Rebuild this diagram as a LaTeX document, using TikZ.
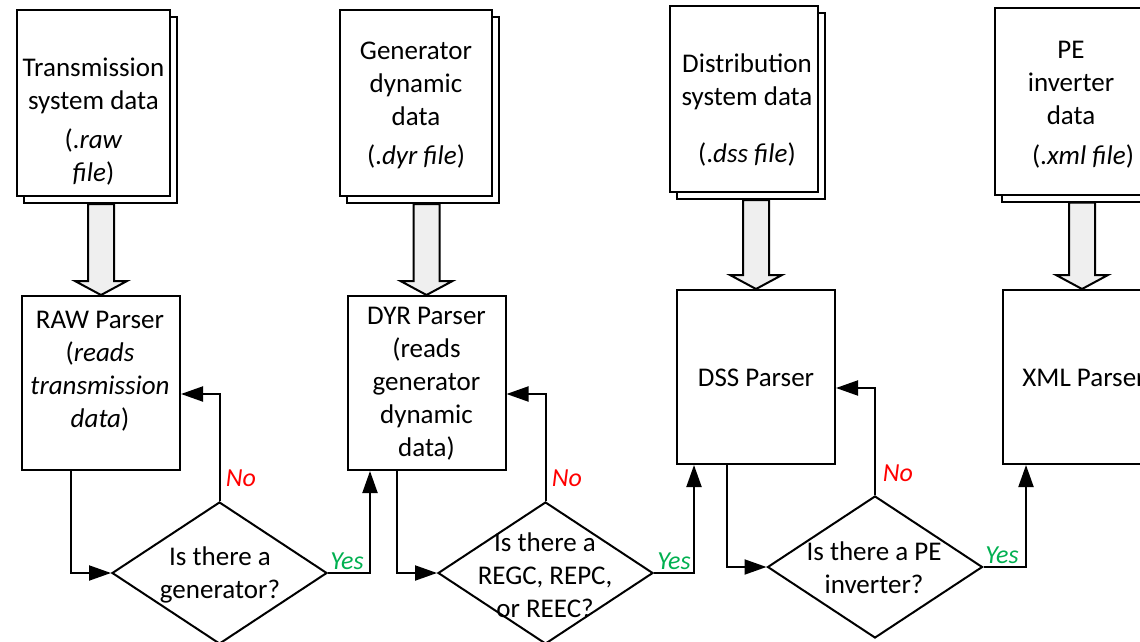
\documentclass[tikz,border=0pt]{standalone}
\usepackage{fontspec}
\setmainfont{Carlito}
\usetikzlibrary{shapes.geometric,shadows,calc,arrows.meta}
\definecolor{yesgreen}{HTML}{00B050}
\definecolor{arrowfill}{HTML}{EFEFEF}
\tikzset{
  lw/.style={line width=2pt},
  docbox/.style={draw, lw, fill=white, minimum width=#1, minimum height=186pt, inner sep=0pt,
    copy shadow={shadow xshift=7pt, shadow yshift=-7pt}},
  parserbox/.style={draw, lw, fill=white, minimum width=158pt, minimum height=174pt, inner sep=0pt},
  decision/.style={draw, lw, diamond, minimum width=215pt, minimum height=142pt, inner sep=0pt, fill=white},
  txt/.style={inner sep=0pt, align=center, font=\fontsize{27}{33}\selectfont},
  conn/.style={lw, -{Triangle[length=22pt,width=15pt]}},
  bigarr/.style={lw, fill=arrowfill, line join=miter},
  nolbl/.style={inner sep=0pt, text=red, font=\fontsize{26}{30}\selectfont\itshape},
  yeslbl/.style={inner sep=0pt, text=yesgreen, font=\fontsize{26}{30}\selectfont\itshape},
}
\newcommand\hollowarrow[2]{%
  \draw[bigarr] let \p1=(#1.south), \p2=(#2.north) in
    (\x2-13pt,\y1-7pt) -- (\x2-13pt,\y2+14pt) -- (\x2-26pt,\y2+14pt) -- (\x2,\y2)
    -- (\x2+26pt,\y2+14pt) -- (\x2+13pt,\y2+14pt) -- (\x2+13pt,\y1-7pt) -- cycle;}
\begin{document}
\begin{tikzpicture}[x=1pt,y=-1pt]
\useasboundingbox (0,0) rectangle (1140,642);
\clip (0,0) rectangle (1140,642);

% parsers
\node[parserbox] (raw) at (101,383) {};
\node[parserbox] (dyr) at (426.5,383) {};
\node[parserbox] (dss) at (756,377) {};
\node[parserbox] (xml) at (1082,377) {};

% data boxes
\node[docbox=153pt] (tdata) at (93.5,103) {};
\node[docbox=152pt] (gdata) at (416,103) {};
\node[docbox=148pt] (ddata) at (744,99) {};
\node[docbox=155pt] (pdata) at (1072.5,101.5) {};

% hollow arrows
\hollowarrow{tdata}{raw}
\hollowarrow{gdata}{dyr}
\hollowarrow{ddata}{dss}
\hollowarrow{pdata}{xml}

% data texts
\node[txt] (tdataT) at (93.5,122) {Transmission\\system data\\[6pt](.\textit{raw}\\\textit{file})};
\node[txt] (gdataT) at (416,105) {Generator\\dynamic\\data\\[6pt](.\textit{dyr file})};
\node[txt] (ddataT) at (747,110) {Distribution\\system data\\[24pt](.\textit{dss file})};
\node[txt] (pdataT) at (1071,105) {PE\\inverter\\data\\[7pt]\hspace*{24pt}(.\textit{xml file})};

% parser texts
\node[txt] (rawT) at (100,371) {RAW Parser\\(\textit{reads}\\\textit{transmission}\\\textit{data})};
\node[txt] (dyrT) at (426.5,383.5) {DYR Parser\\(reads\\generator\\dynamic\\data)};
\node[txt] (dssT) at (756,378) {DSS Parser};
\node[txt] (xmlT) at (1084,378) {XML Parser};

% decisions
\node[decision] (d1) at (219.5,573) {};
\node[decision] (d2) at (545.5,573) {};
\node[decision] (d3) at (875,567) {};
\node[txt] (d1T) at (220,575) {Is there a\\generator?};
\node[txt] (d2T) at (545,575) {Is there a\\REGC, REPC,\\or REEC?};
\node[txt] (d3T) at (874,568) {Is there a PE\\inverter?};

% connectors
\draw[conn] ([xshift=-30pt]raw.south) |- (d1.west);
\draw[conn] (d1.north) |- ([yshift=-11pt]raw.east);
\draw[conn] (d1.east) -| ([xshift=-56.5pt]dyr.south);
\draw[conn] ([xshift=-29.5pt]dyr.south) |- (d2.west);
\draw[conn] (d2.north) |- ([yshift=-11pt]dyr.east);
\draw[conn] (d2.east) -| ([xshift=-62pt]dss.south);
\draw[conn] ([xshift=-29pt]dss.south) |- (d3.west);
\draw[conn] (d3.north) |- ([yshift=-11pt]dss.east);
\draw[conn] (d3.east) -| ([xshift=-56pt]xml.south);

% labels
\node[nolbl] (no1) at (241,478) {No};
\node[nolbl] (no2) at (567,478) {No};
\node[nolbl] (no3) at (898,473) {No};
\node[yeslbl] (yes1) at (347,561) {Yes};
\node[yeslbl] (yes2) at (674,561) {Yes};
\node[yeslbl] (yes3) at (1002,555) {Yes};
\end{tikzpicture}
\end{document}
